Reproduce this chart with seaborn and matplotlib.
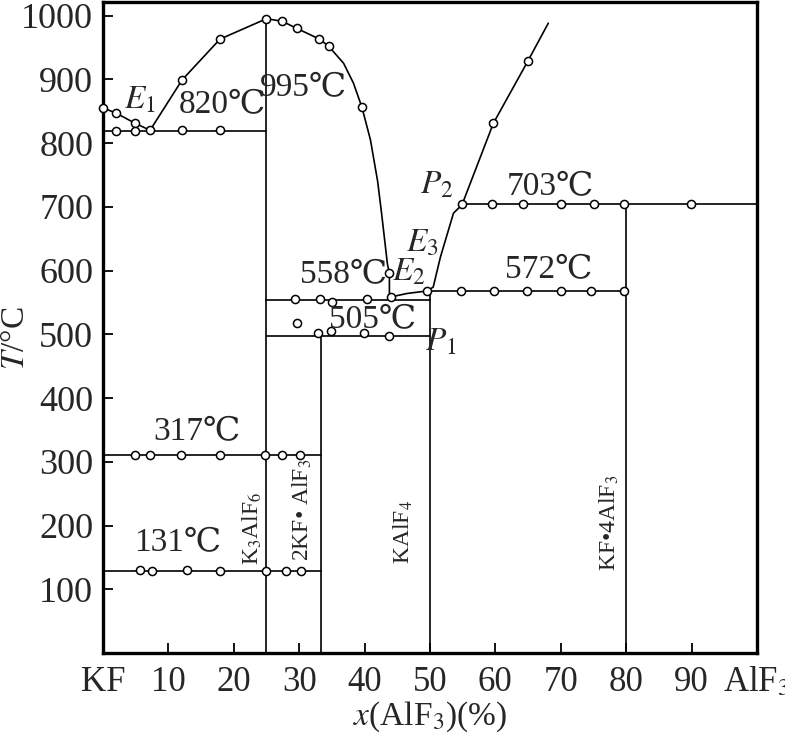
import matplotlib
matplotlib.use("Agg")
import matplotlib.pyplot as plt
import seaborn as sns

# liquidus curves
liq_kf_x = [0, 2, 4.9, 7.2]
liq_kf_t = [855, 847, 831, 820]
liq_k3_x = [7.2, 12.1, 17.9, 25, 27.4, 29.6, 33.1, 34.5, 36.8, 38.3, 39.6, 40.9, 42.0, 42.6, 43.5, 43.8, 43.8]
liq_k3_t = [820, 899, 963, 995, 991, 980, 963, 952, 925, 894, 856, 805, 740, 690, 610, 596, 558]
liq_e2_x = [43.8, 46.5, 49.6]
liq_e2_t = [558, 564, 568]
liq_al_x = [49.6, 50.5, 51.6, 53.6, 54.9, 59.7, 65.0, 68.1]
liq_al_t = [568, 574, 621, 690, 703, 831, 929, 988]

# measured points
liq_pts_x = [0, 2, 4.9, 12.1, 17.9, 25, 27.4, 29.6, 33.1, 34.5, 39.6, 43.8, 59.7, 65.0]
liq_pts_t = [855, 847, 831, 899, 963, 995, 991, 980, 963, 952, 856, 596, 831, 929]
pts_820_x = [2, 4.9, 7.2, 12.1, 17.9]
pts_820_t = [819, 819, 820, 820, 820]
pts_703_x = [54.9, 59.5, 64.3, 70.1, 75.1, 79.7, 89.9]
pts_703_t = [704, 704, 704, 704, 704, 704, 704]
pts_572_x = [49.6, 54.7, 59.8, 64.9, 70.1, 74.6, 79.7]
pts_572_t = [568, 568, 568, 568, 568, 568, 568]
pts_558_x = [29.3, 33.2, 35.0, 40.3, 44.0]
pts_558_t = [556, 555, 550, 555, 559]
pts_505_x = [29.6, 32.9, 34.9, 39.9, 43.8]
pts_505_t = [517, 502, 505, 502, 498]
pts_317_x = [4.9, 7.2, 12.0, 17.9, 24.8, 27.4, 30.1]
pts_317_t = [311, 311, 311, 311, 311, 311, 311]
pts_131_x = [5.6, 7.5, 12.8, 17.9, 25.0, 28.0, 30.3]
pts_131_t = [131, 129, 130, 129, 129, 129, 129]

# isotherms and compound lines: (x list, T list)
segments = [
    ([0, 25], [819, 819]),
    ([25, 25], [0, 995]),
    ([25, 50], [553, 553]),
    ([25, 50], [498, 498]),
    ([0, 33.3], [311, 311]),
    ([0, 33.3], [129, 129]),
    ([33.3, 33.3], [0, 498]),
    ([50, 50], [0, 568]),
    ([50, 80], [568, 568]),
    ([54.9, 100], [704, 704]),
    ([80, 80], [0, 704]),
]

x_ticks = [0, 10, 20, 30, 40, 50, 60, 70, 80, 90, 100]
x_labels = ["KF", "10", "20", "30", "40", "50", "60", "70", "80", "90", "AlF$_3$"]
y_ticks = [100, 200, 300, 400, 500, 600, 700, 800, 900, 1000]

sns.set_style("ticks")
plt.rcParams['font.family'] = ['Liberation Serif', 'STIXGeneral', 'DejaVu Serif']
plt.rcParams['mathtext.fontset'] = 'stix'
plt.rcParams['xtick.direction'] = 'in'
plt.rcParams['ytick.direction'] = 'in'

fig = plt.figure(figsize=(7.85, 7.33), dpi=100)
ax = fig.add_axes([0.1312, 0.1091, 0.833, 0.888])

lw = 1.2
for xs, ts in [(liq_kf_x, liq_kf_t), (liq_k3_x, liq_k3_t), (liq_e2_x, liq_e2_t), (liq_al_x, liq_al_t)] + segments:
    sns.lineplot(x=xs, y=ts, sort=False, estimator=None, color='black', lw=lw, ax=ax)

all_x = liq_pts_x + pts_820_x + pts_703_x + pts_572_x + pts_558_x + pts_505_x + pts_317_x + pts_131_x
all_t = liq_pts_t + pts_820_t + pts_703_t + pts_572_t + pts_558_t + pts_505_t + pts_317_t + pts_131_t
sns.scatterplot(x=all_x, y=all_t, s=34, color='white', edgecolor='black', linewidth=1.1, zorder=3, ax=ax, clip_on=False)

ax.set_xlim(0, 100)
ax.set_ylim(0, 1021)
ax.set_xticks(x_ticks)
ax.set_xticklabels(x_labels)
ax.set_yticks(y_ticks)
ax.tick_params(axis='both', labelsize=26, length=7, width=1.3, color='black')
ax.tick_params(axis='x', labelsize=25, pad=9)
ax.tick_params(axis='y', pad=7)
for s in ax.spines.values():
    s.set_linewidth(2.4)
    s.set_color('black')

ax.set_xlabel("$x$(AlF$_3$)(%)", fontsize=24)
ax.xaxis.set_label_coords(0.5, -0.098)
ax.xaxis.label.set_va('center')
ax.set_ylabel("$T$/°C", fontsize=24)
ax.yaxis.set_label_coords(-0.133, 0.484)
ax.yaxis.label.set_va('center')

fs = 24
lbl = dict(fontsize=fs, ha='center', va='center')
ax.text(5.7, 867, "$E_1$", **lbl)
ax.text(18.2, 860, "820℃", **lbl)
ax.text(30.6, 886, "995℃", **lbl)
ax.text(51.1, 734, "$P_2$", **lbl)
ax.text(68.5, 731, "703℃", **lbl)
ax.text(48.9, 643, "$E_3$", **lbl)
ax.text(36.8, 593, "558℃", **lbl)
ax.text(46.7, 598, "$E_2$", **lbl)
ax.text(68.1, 601, "572℃", **lbl)
ax.text(41.3, 522, "505℃", **lbl)
ax.text(51.6, 488, "$P_1$", **lbl)
ax.text(14.4, 347, "317℃", **lbl)
ax.text(11.5, 173, "131℃", **lbl)

rot = dict(fontsize=17, ha='center', va='center', rotation=90)
ax.text(22.8, 196, "K$_3$AlF$_6$", **rot)
ax.text(30.5, 224, "2KF• AlF$_3$", **rot)
ax.text(45.9, 190, "KAlF$_4$", **rot)
ax.text(77.5, 204, "KF•4AlF$_3$", **rot)

fig.savefig("out.png", dpi=100)
